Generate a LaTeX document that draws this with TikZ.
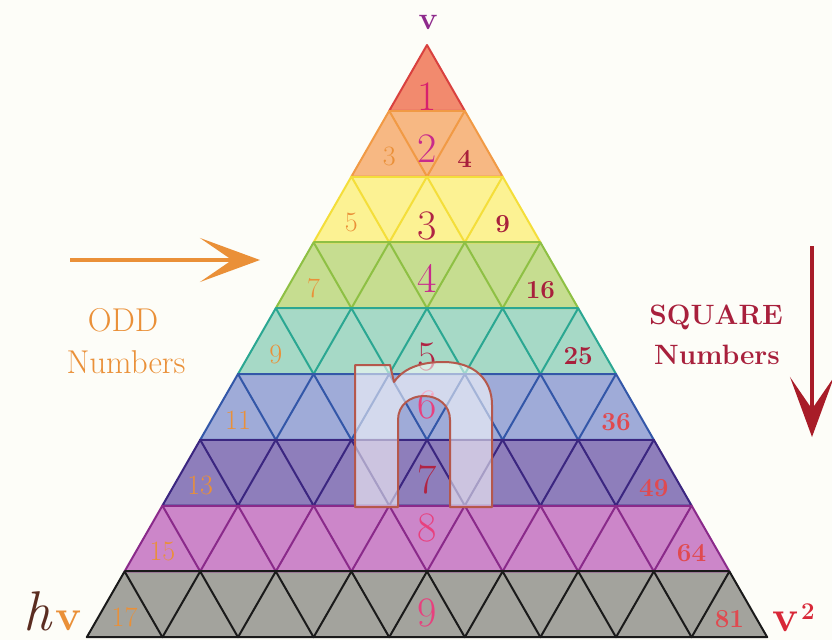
\documentclass[tikz,border=0pt]{standalone}
\usetikzlibrary{arrows.meta}
\definecolor{cBack}{HTML}{FDFDF8}
\definecolor{fill1}{HTML}{F28A6E}
\definecolor{fill2}{HTML}{F7B883}
\definecolor{fill3}{HTML}{FCF293}
\definecolor{fill4}{HTML}{C6DD90}
\definecolor{fill5}{HTML}{A6D9C6}
\definecolor{fill6}{HTML}{9FABD8}
\definecolor{fill7}{HTML}{8E7EBB}
\definecolor{fill8}{HTML}{CC86C9}
\definecolor{fill9}{HTML}{A3A39D}
\definecolor{line1}{HTML}{D9413F}
\definecolor{line2}{HTML}{F19A45}
\definecolor{line3}{HTML}{F4DE3A}
\definecolor{line4}{HTML}{8EC044}
\definecolor{line5}{HTML}{2BA792}
\definecolor{line6}{HTML}{3357A8}
\definecolor{line7}{HTML}{3B2680}
\definecolor{line8}{HTML}{8A2A8A}
\definecolor{line9}{HTML}{1A1A1A}
\definecolor{cOdd}{HTML}{EA9038}
\definecolor{cSq}{HTML}{A8203C}
\definecolor{cSqB}{HTML}{E04A50}
\definecolor{cMagA}{HTML}{D8206E}
\definecolor{cMagB}{HTML}{C82A8C}
\definecolor{cCrim}{HTML}{B02444}
\definecolor{cPink}{HTML}{E8407E}
\definecolor{cTop}{HTML}{8E2A8C}
\definecolor{cH}{HTML}{5A2C20}
\definecolor{cV}{HTML}{D82838}
\definecolor{cN}{HTML}{B5584C}
\definecolor{cDown}{HTML}{A81C28}

\begin{document}
\begin{tikzpicture}[x=1pt, y=-1pt, line join=round,
    oddnum/.style={text=cOdd, inner sep=0pt, font=\fontsize{28}{28}\selectfont},
    sqnum/.style={inner sep=0pt, font=\bfseries\fontsize{26}{26}\selectfont},
    midnum/.style={inner sep=0pt, font=\fontsize{42}{42}\selectfont},
    word/.style={inner sep=0pt, font=\fontsize{33}{33}\selectfont},
    boldword/.style={inner sep=0pt, font=\bfseries\fontsize{28}{28}\selectfont},
    arrowtip/.style={-{Stealth[length=60pt, width=44pt, inset=32pt]}, line width=3.2pt}]

    \useasboundingbox[fill=cBack] (0,0) rectangle (832,640);
    \def\s{75.6}
    \def\h{65.8}

    % Filling the rows
    \foreach \k in {1,...,9}{
        \pgfmathsetmacro{\yt}{45+(\k-1)*\h}
        \pgfmathsetmacro{\yb}{45+\k*\h}
        \pgfmathsetmacro{\xlt}{427-(\k-1)*\s/2}
        \pgfmathsetmacro{\xrt}{427+(\k-1)*\s/2}
        \pgfmathsetmacro{\xlb}{427-\k*\s/2}
        \pgfmathsetmacro{\xrb}{427+\k*\s/2}
        \fill[fill\k] (\xlt,\yt) -- (\xrt,\yt) -- (\xrb,\yb) -- (\xlb,\yb) -- cycle;
    }

    % Triangle grid, one row at a time
    \foreach \k in {1,...,9}{
        \pgfmathsetmacro{\yt}{45+(\k-1)*\h}
        \pgfmathsetmacro{\yb}{45+\k*\h}
        \pgfmathsetmacro{\xlt}{427-(\k-1)*\s/2}
        \pgfmathsetmacro{\xrt}{427+(\k-1)*\s/2}
        \pgfmathsetmacro{\xlb}{427-\k*\s/2}
        \draw[line\k, line width=2pt] (\xlt,\yt) -- (\xrt,\yt);
        \foreach \j in {1,...,\k}{
            \pgfmathsetmacro{\xa}{\xlb+(\j-1)*\s}
            \pgfmathsetmacro{\xm}{\xa+\s/2}
            \pgfmathsetmacro{\xc}{\xa+\s}
            \draw[line\k, line width=2pt] (\xa,\yb) -- (\xm,\yt) -- (\xc,\yb) -- cycle;
        }
    }

    % Odd and square numbers on the sides
    \foreach \k/\odd/\sq/\sqc in {2/3/4/cSq, 3/5/9/cSq, 4/7/16/cSq, 5/9/25/cSq,
                                  6/11/36/cSqB, 7/13/49/cSqB, 8/15/64/cSqB, 9/17/81/cSqB}{
        \pgfmathsetmacro{\yb}{45+\k*\h}
        \pgfmathsetmacro{\xo}{427-\k*\s/2+\s/2}
        \pgfmathsetmacro{\xs}{427+\k*\s/2-\s/2}
        \node[oddnum] (odd\k) at (\xo,\yb-20) {\odd};
        \node[sqnum, text=\sqc] (sq\k) at (\xs,\yb-18) {\sq};
    }

    % Row numbers down the middle
    \foreach \k/\cy/\cc in {1/97/cMagA, 2/149/cMagB, 3/226/cCrim, 4/278/cMagB, 5/357/cCrim,
                            6/405/cPink, 7/480/cCrim, 8/528/cPink, 9/613/cPink}{
        \node[midnum, text=\cc] (mid\k) at (427,\cy) {\k};
    }

    % The big n
    \filldraw[fill=white, fill opacity=0.55, draw=cN, line width=2pt]
        (355,365) -- (390,365) -- (394,382)
        .. controls (405,366) and (425,362) .. (443,362)
        .. controls (475,362) and (492,380) .. (492,405)
        -- (492,507) -- (450,507) -- (450,420)
        .. controls (450,405) and (438,396) .. (424,396)
        .. controls (410,396) and (398,405) .. (398,420)
        -- (398,507) -- (355,507) -- cycle;

    % Labels round the pyramid
    \node[inner sep=0pt, text=cTop, font=\bfseries\fontsize{32}{32}\selectfont] (vtop) at (428,22) {v};
    \node[word, text=cOdd] (oddA) at (123,320) {ODD};
    \node[word, text=cOdd] (oddB) at (126,362) {Numbers};
    \node[boldword, text=cSq] (sqA) at (716,317) {SQUARE};
    \node[boldword, text=cSq] (sqB) at (717,355) {Numbers};
    \node[anchor=base west, inner sep=1pt, text=cH, font=\itshape\fontsize{56}{56}\selectfont] (hsym) at (22,630) {h\/};
    \node[anchor=base west, inner sep=0pt, text=cOdd, font=\bfseries\fontsize{44}{44}\selectfont] (vsym) at (55,630) {v};
    \node[anchor=base west, inner sep=0pt, text=cV, font=\bfseries\fontsize{44}{44}\selectfont] (vsq) at (772,631) {v};
    \node[anchor=base west, inner sep=0pt, text=cV, font=\bfseries\fontsize{24}{24}\selectfont] (vsqtwo) at (801,619) {2};

    % Arrows
    \coordinate (oddtail) at (70,260);
    \coordinate (oddtip) at (260,260);
    \coordinate (sqtail) at (812,246);
    \coordinate (sqtip) at (812,437);
    \draw[arrowtip, draw=cOdd, fill=cOdd] (oddtail) -- (oddtip);
    \draw[arrowtip, draw=cDown, fill=cDown] (sqtail) -- (sqtip);

\end{tikzpicture}
\end{document}
